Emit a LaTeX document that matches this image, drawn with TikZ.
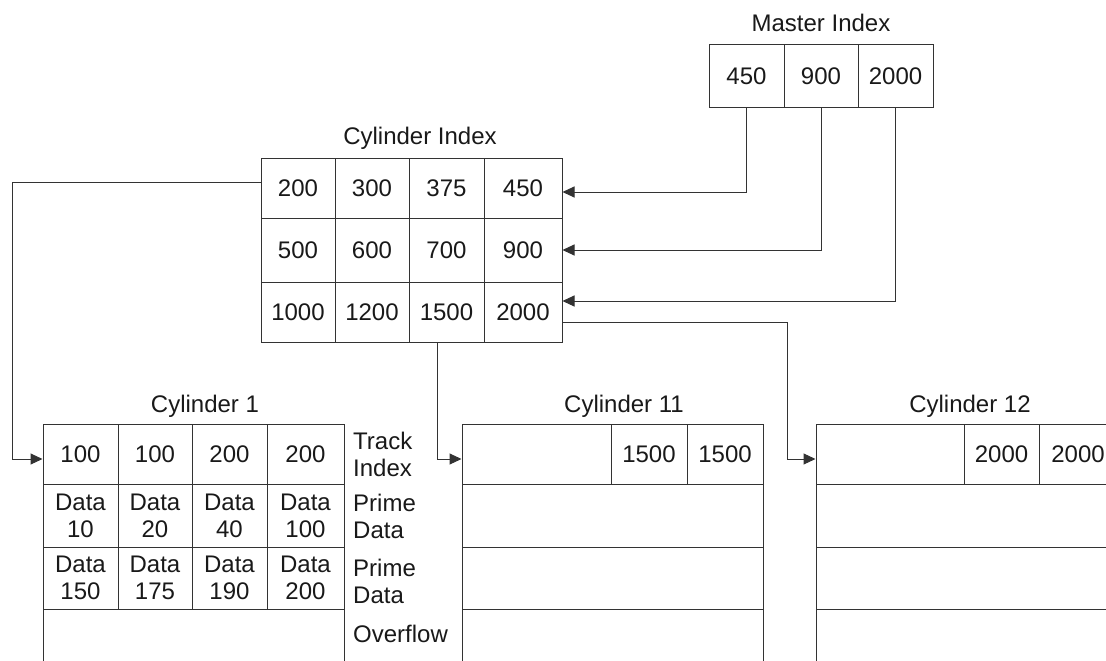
\documentclass[tikz,border=0pt]{standalone}
\usepackage{fontspec}
\setmainfont{Liberation Sans}
\usetikzlibrary{fit,arrows.meta}
\begin{document}
\begin{tikzpicture}[x=1pt,y=-1pt,
  cell/.style={draw=black!80, line width=1pt, inner sep=0pt},
  every label/.style={inner sep=0pt, font=\fontsize{24}{27}\selectfont, align=center, text=black!90},
  lab/.style={inner sep=0pt, font=\fontsize{24}{27}\selectfont, text=black!90},
  conn/.style={draw=black!80, line width=1pt},
  arr/.style={conn, -{Triangle[length=12pt,width=11pt]}}]
\useasboundingbox (0,0) rectangle (1106,661);
\clip (0,0) rectangle (1106,661);
% titles
\node[lab, anchor=base] (tm) at (821,32) {Master Index};
\node[lab, anchor=base] (tci) at (420,144) {Cylinder Index};
\node[lab, anchor=base] (tc1) at (205,412) {Cylinder 1};
\node[lab, anchor=base] (tc11) at (624,412) {Cylinder 11};
\node[lab, anchor=base] (tc12) at (970,412) {Cylinder 12};
% master index
\node[cell, fit={(709,45)(784,107)}, label=center:450] (m1) {};
\node[cell, fit={(784,45)(858,107)}, label=center:900] (m2) {};
\node[cell, fit={(858,45)(933,107)}, label=center:2000] (m3) {};
% cylinder index
\node[cell, fit={(261,158)(335,218)}, label=center:200] (ci11) {};
\node[cell, fit={(335,158)(409,218)}, label=center:300] (ci12) {};
\node[cell, fit={(409,158)(484,218)}, label=center:375] (ci13) {};
\node[cell, fit={(484,158)(562,218)}, label=center:450] (ci14) {};
\node[cell, fit={(261,218)(335,282)}, label=center:500] (ci21) {};
\node[cell, fit={(335,218)(409,282)}, label=center:600] (ci22) {};
\node[cell, fit={(409,218)(484,282)}, label=center:700] (ci23) {};
\node[cell, fit={(484,218)(562,282)}, label=center:900] (ci24) {};
\node[cell, fit={(261,282)(335,342)}, label=center:1000] (ci31) {};
\node[cell, fit={(335,282)(409,342)}, label=center:1200] (ci32) {};
\node[cell, fit={(409,282)(484,342)}, label=center:1500] (ci33) {};
\node[cell, fit={(484,282)(562,342)}, label=center:2000] (ci34) {};
% cylinder 1
\node[cell, fit={(43,424)(118,484)}, label=center:100] (c1a) {};
\node[cell, fit={(118,424)(192,484)}, label=center:100] (c1b) {};
\node[cell, fit={(192,424)(267,484)}, label=center:200] (c1c) {};
\node[cell, fit={(267,424)(344,484)}, label=center:200] (c1d) {};
\node[cell, fit={(43,484)(118,547)}, label={center:{Data\\10}}] (c1e) {};
\node[cell, fit={(118,484)(192,547)}, label={center:{Data\\20}}] (c1f) {};
\node[cell, fit={(192,484)(267,547)}, label={center:{Data\\40}}] (c1g) {};
\node[cell, fit={(267,484)(344,547)}, label={center:{Data\\100}}] (c1h) {};
\node[cell, fit={(43,547)(118,609)}, label={center:{Data\\150}}] (c1i) {};
\node[cell, fit={(118,547)(192,609)}, label={center:{Data\\175}}] (c1j) {};
\node[cell, fit={(192,547)(267,609)}, label={center:{Data\\190}}] (c1k) {};
\node[cell, fit={(267,547)(344,609)}, label={center:{Data\\200}}] (c1l) {};
\node[cell, fit={(43,609)(344,690)}] (c1m) {};
% side labels
\node[lab, anchor=west, align=left] (sti) at (353,454) {Track\\Index};
\node[lab, anchor=west, align=left] (spd1) at (353,516) {Prime\\Data};
\node[lab, anchor=west, align=left] (spd2) at (353,581) {Prime\\Data};
\node[lab, anchor=west] (sov) at (353,634) {Overflow};
% cylinder 11
\node[cell, fit={(462,424)(611,484)}] (c11a) {};
\node[cell, fit={(611,424)(687,484)}, label=center:1500] (c11b) {};
\node[cell, fit={(687,424)(763,484)}, label=center:1500] (c11c) {};
\node[cell, fit={(462,484)(763,547)}] (c11d) {};
\node[cell, fit={(462,547)(763,609)}] (c11e) {};
\node[cell, fit={(462,609)(763,690)}] (c11f) {};
% cylinder 12
\node[cell, fit={(816,424)(964,484)}] (c12a) {};
\node[cell, fit={(964,424)(1039,484)}, label=center:2000] (c12b) {};
\node[cell, fit={(1039,424)(1117,484)}, label=center:2000] (c12c) {};
\node[cell, fit={(816,484)(1117,547)}] (c12d) {};
\node[cell, fit={(816,547)(1117,609)}] (c12e) {};
\node[cell, fit={(816,609)(1117,690)}] (c12f) {};
% connectors
\draw[arr] (m1.south) |- ([yshift=-4pt]ci14.east);
\draw[arr] (m2.south) |- (ci24.east);
\draw[arr] (m3.south) |- ([yshift=11pt]ci34.east);
\draw[arr] ([yshift=-10pt]ci34.east) -- ++(225,0) |- ([yshift=-5pt]c12a.west);
\draw[arr] ([yshift=6pt]ci11.west) -- ++(-248,0) |- ([yshift=-5pt]c1a.west);
\draw[arr] ([xshift=-9.5pt]ci33.south) |- ([yshift=-5pt]c11a.west);
\end{tikzpicture}
\end{document}
